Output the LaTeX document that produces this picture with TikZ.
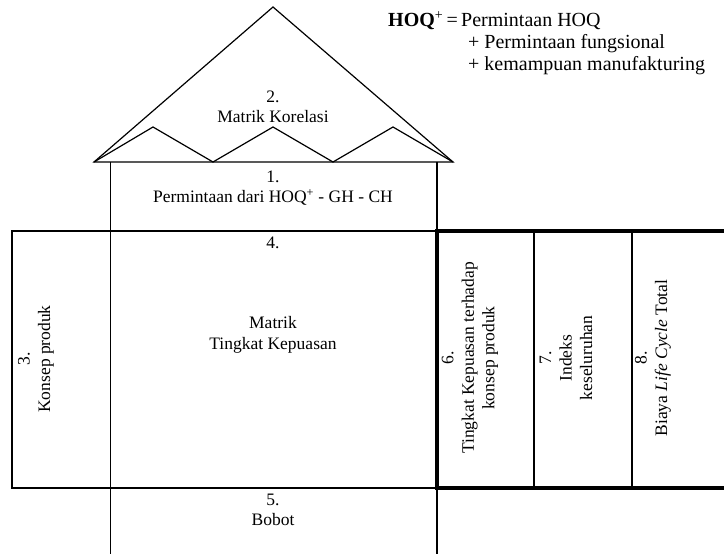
\documentclass[tikz,border=0pt]{standalone}
\usepackage{fontspec}
\setmainfont{Liberation Serif}
\begin{document}
\begin{tikzpicture}[x=1pt,y=-1pt,
  line/.style={line width=1.2pt},
  heavy/.style={line width=3.8pt},
  divider/.style={line width=1.8pt},
  label/.style={font=\fontsize{17.5}{20.5}\selectfont, align=center, inner sep=0pt},
  vlabel/.style={label, rotate=90},
  formula/.style={font=\fontsize{20}{22}\selectfont, inner sep=0pt, anchor=base west}]
\useasboundingbox (0,0) rectangle (724,554);

% roof: large gable with three small peaks along its base
\coordinate (apex) at (273,7);
\coordinate (eaveL) at (94,162);
\coordinate (eaveR) at (453,162);
\draw[line, line join=miter] (eaveL) -- (apex) -- (eaveR) -- cycle;
\draw[line] (eaveL) -- (153,127) -- (213,162) -- (273,127) -- (333,162) -- (393,127) -- (eaveR);

% walls of the upper box, the main matrix and the weight row
\draw[line] (110.5,162) -- (110.5,554);
\draw[line] (437,162) -- (437,554);
\draw[line] (12,231) rectangle (437,488);

% right-hand block with heavy outline and its column dividers
\draw[heavy] (724,231) -- (437,231) -- (437,488) -- (724,488);
\draw[divider] (534,231) -- (534,488);
\draw[divider] (632,231) -- (632,488);

% text of the sections
\node[label] (korelasi) at (273,107) {2.\\Matrik Korelasi};
\node[label] (permintaan) at (273,188) {1.\\Permintaan dari HOQ\textsuperscript{+} - GH - CH};
\node[label] (n4) at (273,243) {4.};
\node[label] (kepuasan) at (273,335) {Matrik\\Tingkat Kepuasan};
\node[label] (bobot) at (273,510) {5.\\Bobot};
\node[vlabel] (konsep) at (36,359) {3.\\Konsep produk};
\node[vlabel] (tingkat) at (470,358) {6.\\Tingkat Kepuasan terhadap\\konsep produk};
\node[vlabel] (indeks) at (566,358) {7.\\Indeks\\keseluruhan};
\node[vlabel] (biaya) at (653,358) {8.\\Biaya \textit{Life Cycle} Total};

% definition of HOQ+
\node[formula] (hoq1) at (388,27) {\textbf{HOQ}\textsuperscript{+}\,=\,Permintaan HOQ};
\node[formula] (hoq2) at (468,48.5) {+ Permintaan fungsional};
\node[formula] (hoq3) at (468,70) {+ kemampuan manufakturing};
\end{tikzpicture}
\end{document}
